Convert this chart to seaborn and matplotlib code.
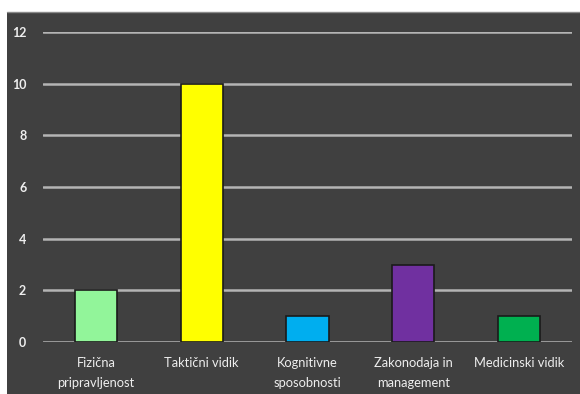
import matplotlib
matplotlib.use("Agg")
import matplotlib.pyplot as plt
import matplotlib.patches as mpatches
import seaborn as sns
import pandas as pd

categories = ["Fizična\npripravljenost", "Taktični vidik", "Kognitivne\nsposobnosti",
              "Zakonodaja in\nmanagement", "Medicinski vidik"]
values = [2, 10, 1, 3, 1]
colors = ["#92F59A", "#FFFF00", "#00AEEF", "#7030A0", "#00B050"]
yticks = [0, 2, 4, 6, 8, 10, 12]

sns.set_theme(style="dark")
plt.rcParams["font.family"] = ["Lato", "DejaVu Sans"]

W, H = 580, 394
panel = "#404040"
fig = plt.figure(figsize=(W / 100, H / 100), dpi=100, facecolor="white")

# dark chart area with a light top border
fig.patches.append(mpatches.Rectangle((7 / W, 0), 1 - 7 / W, (H - 12) / H,
                                      transform=fig.transFigure, facecolor=panel,
                                      edgecolor="none", zorder=-2))
fig.lines.append(plt.Line2D([7 / W, 1], [(H - 12) / H] * 2, transform=fig.transFigure,
                            color="#8a8a8a", lw=1.0, zorder=-1))

ax = fig.add_axes([43 / W, 52 / H, (572 - 43) / W, (362 - 52) / H])
ax.set_zorder(5)
ax.set_facecolor(panel)
ax.patch.set_alpha(0)

df = pd.DataFrame({"cat": categories, "val": values})
sns.barplot(data=df, x="cat", y="val", hue="cat", palette=colors, legend=False,
            saturation=1, width=0.4, edgecolor="#1a1a1a", linewidth=1.2, ax=ax, zorder=3)

ax.set_ylim(0, 12)
ax.set_xlim(-0.5, len(categories) - 0.5)
ax.set_yticks(yticks)
ax.yaxis.grid(True, color="#B4B4B4", lw=1.8, zorder=1)
ax.xaxis.grid(False)
ax.set_axisbelow(True)
for s in ax.spines.values():
    s.set_visible(False)
ax.set_xlabel("")
ax.set_ylabel("")
ax.tick_params(axis="y", length=0, pad=12, labelsize=9, labelcolor="#EEEEEE")
ax.tick_params(axis="x", length=0, pad=11, labelsize=9.3, labelcolor="#EEEEEE")
for lbl in ax.get_xticklabels():
    lbl.set_linespacing(1.75)
for lbl in ax.get_yticklabels():
    lbl.set_fontweight("bold")

fig.savefig("out.png", dpi=100, facecolor="white")
